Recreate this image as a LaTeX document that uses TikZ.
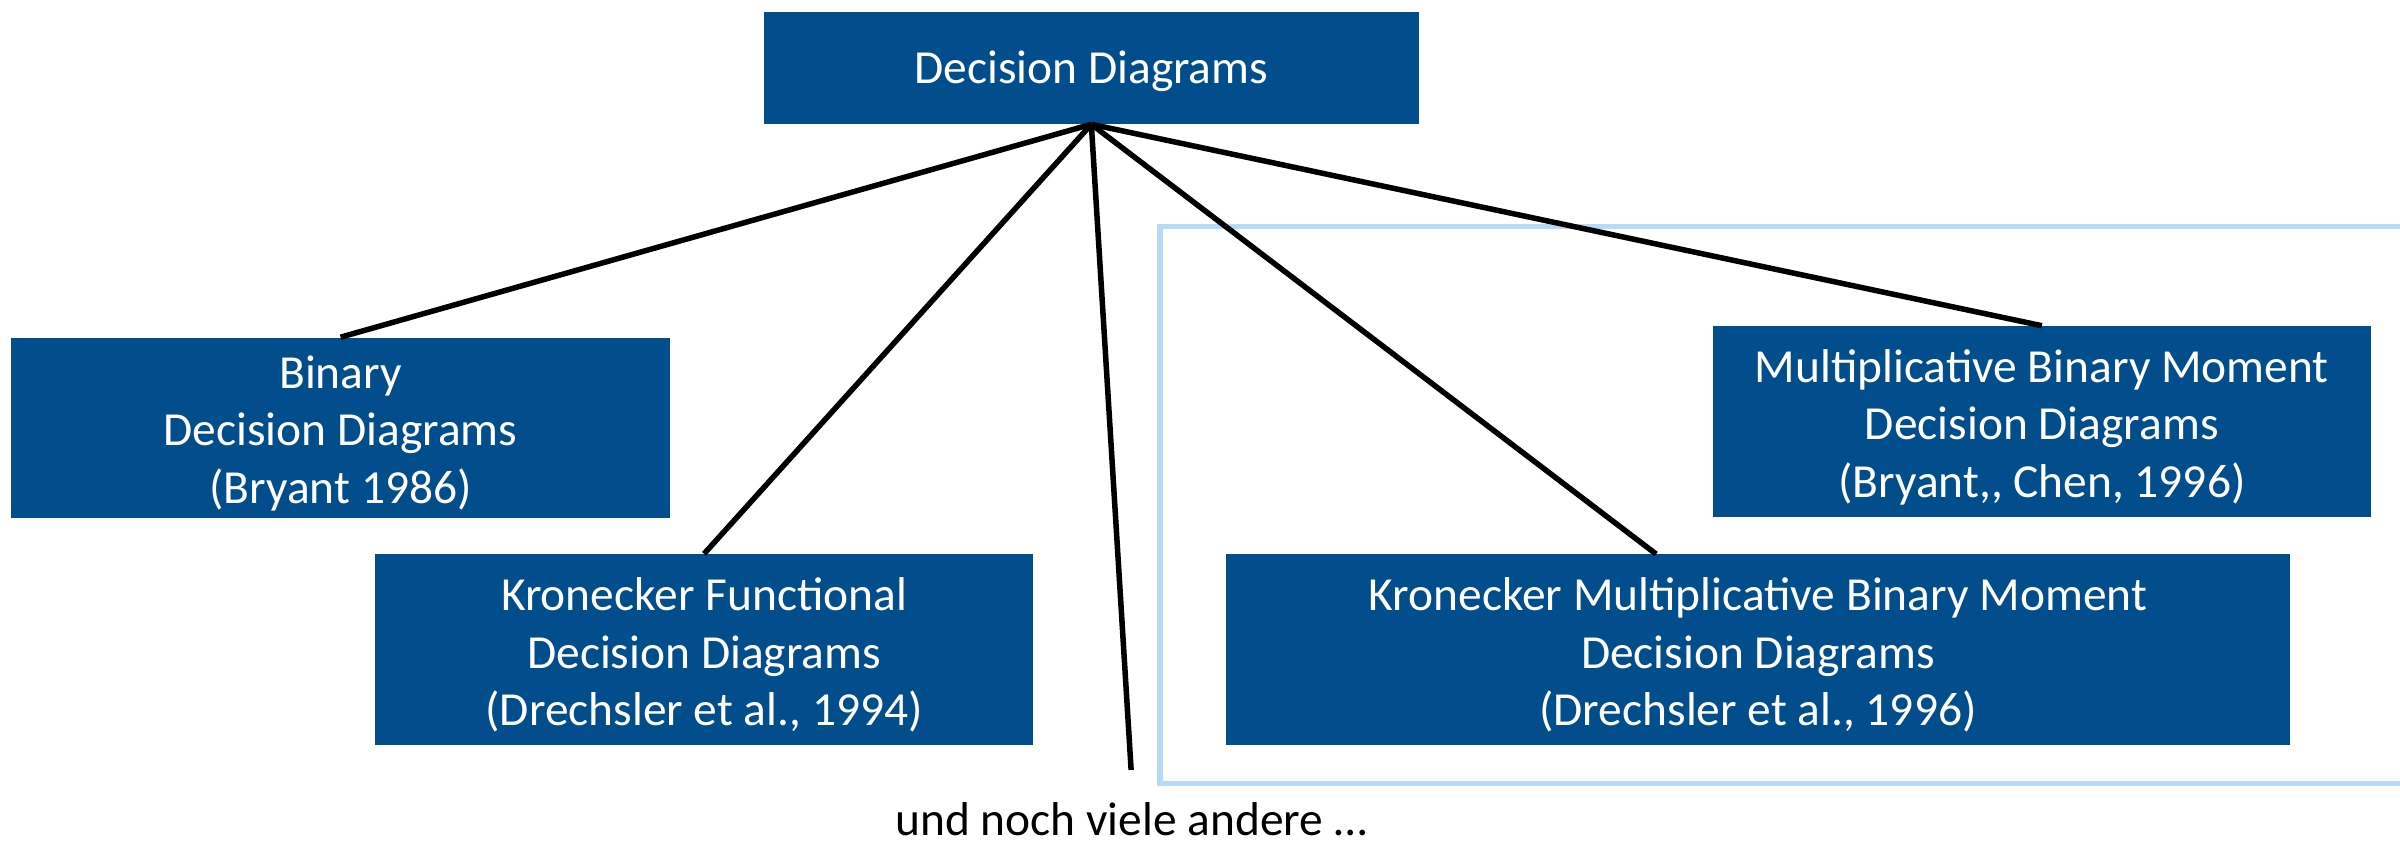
\documentclass[tikz,border=0pt]{standalone}
\usepackage{fontspec}
\setmainfont{Carlito}
\definecolor{ddblue}{RGB}{2,78,140}
\definecolor{frameblue}{RGB}{184,218,248}
\begin{document}
\begin{tikzpicture}[x=1pt,y=-1pt,
  box/.style={fill=ddblue,draw=none,inner sep=0pt},
  boxtext/.style={text=white,align=center,inner sep=0pt,yshift=-3.5pt,
    font=\fontsize{31}{37.5}\selectfont},
  link/.style={draw=black,line width=3.6pt}]
\useasboundingbox (0,0) rectangle (1568,551.4);
\fill[white] (0,0) rectangle (1568,551.4);
\draw[frameblue,line width=3.6pt] (1600,148) -- (758,148) -- (758,512) -- (1600,512);
\node[box,minimum width=428pt,minimum height=73pt,label={[boxtext,yshift=1.5pt]center:Decision Diagrams}] (dd) at (713,44.5) {};
\node[box,minimum width=431pt,minimum height=118pt,label={[boxtext]center:{Binary\\Decision Diagrams\\(Bryant 1986)}}] (bdd) at (222.5,279.5) {};
\node[box,minimum width=430pt,minimum height=125pt,label={[boxtext]center:{Kronecker Functional\\Decision Diagrams\\(Drechsler et al., 1994)}}] (kfdd) at (460,424.5) {};
\node[box,minimum width=430pt,minimum height=125pt,label={[boxtext]center:{Multiplicative Binary Moment\\Decision Diagrams\\(Bryant,{},~Chen, 1996)}}] (mbmd) at (1334,275.5) {};
\node[box,minimum width=695pt,minimum height=125pt,label={[boxtext]center:{Kronecker Multiplicative Binary Moment\\Decision Diagrams\\(Drechsler et al., 1996)}}] (kmbmd) at (1148.5,424.5) {};
\node[font=\fontsize{31}{37}\selectfont,inner sep=0pt,anchor=base] (other) at (739,546) {und noch viele andere …};
\coordinate (vend) at (739,503);
\coordinate (kmtop) at (1082,362);
\draw[link] (dd.south) -- (bdd.north);
\draw[link] (dd.south) -- (kfdd.north);
\draw[link] (dd.south) -- (vend);
\draw[link] (dd.south) -- (kmtop);
\draw[link] (dd.south) -- (mbmd.north);
\end{tikzpicture}
\end{document}
